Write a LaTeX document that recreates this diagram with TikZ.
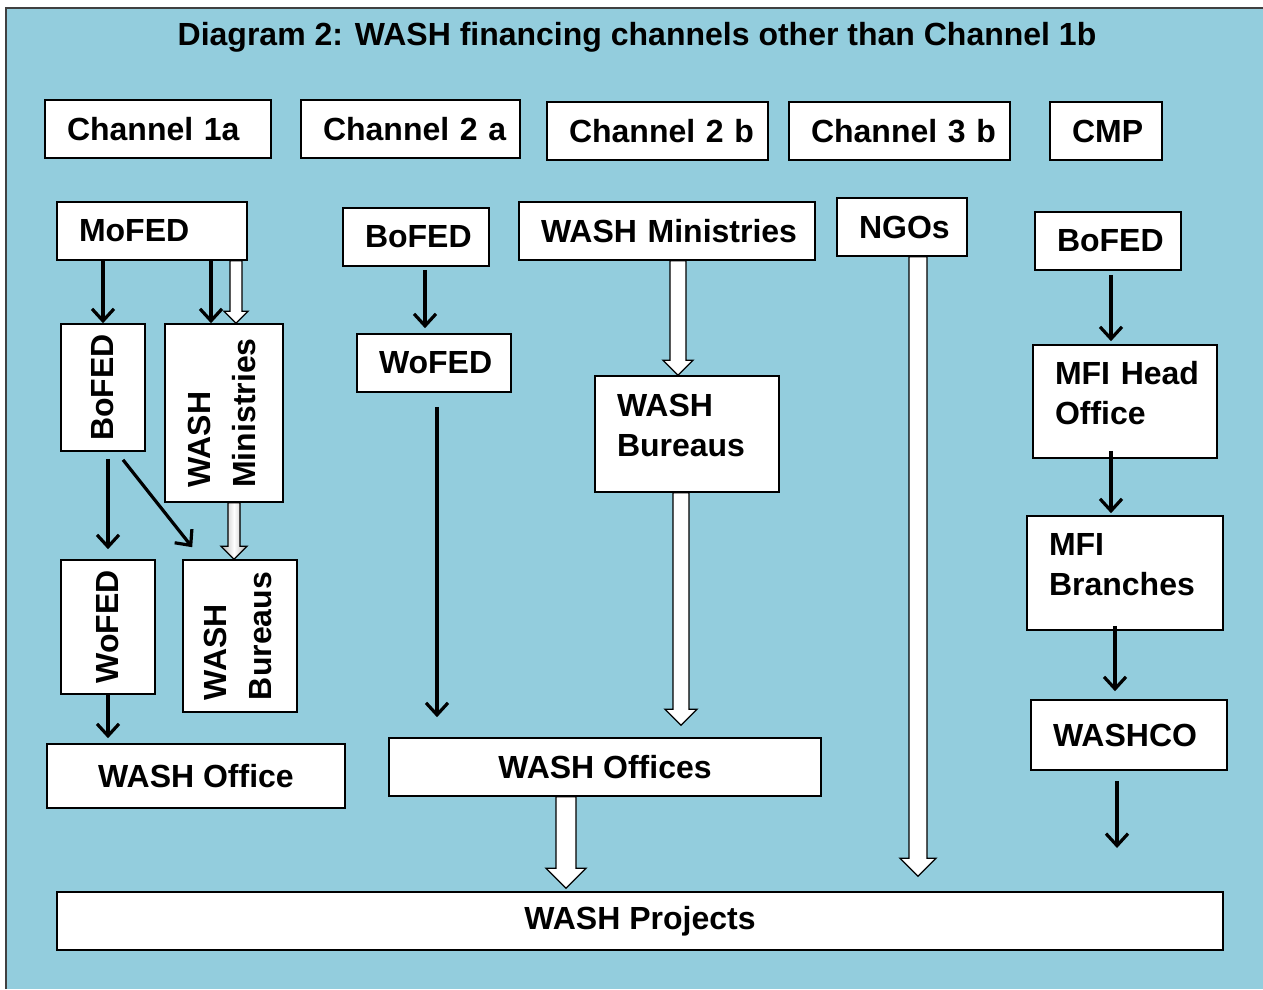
\documentclass[tikz,border=0pt]{standalone}
\usepackage{fontspec}
\setmainfont{Liberation Sans}
\usepackage{graphicx}
\usetikzlibrary{arrows.meta, calc}

\definecolor{bgblue}{RGB}{147,205,221}
\newcommand{\lbl}{\fontsize{32}{40}\selectfont\bfseries}
\newcommand{\vlbl}{\fontsize{32}{45}\selectfont\bfseries}

% white block arrow pointing down: from, to, shaft half width, head half width
\newcommand{\blockarrow}[5][fill=white]{%
	\filldraw[#1, draw=black, line width=1.3pt, line join=miter]
		let \p1=(#2), \p2=(#3) in
		(\x1-#4,\y1) -- (\x1-#4,\y2+#5) -- (\x1-#5,\y2+#5) -- (\x1,\y2)
		-- (\x1+#5,\y2+#5) -- (\x1+#4,\y2+#5) -- (\x1+#4,\y1) -- cycle;}

\begin{document}
\begin{tikzpicture}[x=1pt, y=-1pt,
					box/.style={draw, fill=white, line width=1.6pt, inner xsep=22pt,
								inner ysep=0pt, align=left, font=\lbl},
					twoline/.style={text depth=58pt},
					cbox/.style={draw, fill=white, line width=1.6pt, inner sep=0pt,
								align=center, font=\lbl},
					vbox/.style={draw, fill=white, line width=1.6pt, inner sep=0pt,
								font=\vlbl},
					flow/.style={-{Straight Barb[length=12pt,width=22pt]}, line width=3.2pt}]

	\useasboundingbox (0,0) rectangle (1263,989);
	\fill[bgblue] (6,8) rectangle (1263,989);
	\draw[line width=1.5pt, black!75] (6,989) -- (6,8) -- (1263,8);

	\node[font=\lbl] (title) at (637,37) {Diagram 2: WASH financing channels other than Channel 1b};

	% channel headers
	\node[box, text width=182pt, minimum height=58pt] (ch1a) at (158,129) {\mbox{Channel 1a}};
	\node[box, text width=175pt, minimum height=58pt] (ch2a) at (410.5,129) {\mbox{Channel 2 a}};
	\node[box, text width=177pt, minimum height=58pt] (ch2b) at (657.5,131) {\mbox{Channel 2 b}};
	\node[box, text width=177pt, minimum height=58pt] (ch3b) at (899.5,131) {\mbox{Channel 3 b}};
	\node[box, text width=68pt, minimum height=58pt] (cmp) at (1106,131) {CMP};

	% channel 1a
	\node[box, text width=146pt, minimum height=58pt] (mofed) at (152,231) {MoFED};
	\node[vbox, minimum width=84pt, minimum height=127pt] (bofedA) at (103,387.5) {\rotatebox{90}{BoFED}};
	\node[vbox, minimum width=118pt, minimum height=178pt] (wminA) at (224,413)
		{\rotatebox{90}{\begin{tabular}{@{}l@{}}WASH\\Ministries\end{tabular}}};
	\node[vbox, minimum width=94pt, minimum height=134pt] (wofedA) at (108,627) {\rotatebox{90}{WoFED}};
	\node[vbox, minimum width=114pt, minimum height=152pt] (wbuA) at (240,636)
		{\rotatebox{90}{\begin{tabular}{@{}l@{}}WASH\\Bureaus\end{tabular}}};
	\node[cbox, minimum width=298pt, minimum height=64pt] (woffA) at (196,776) {WASH Office};

	% channel 2a
	\node[box, text width=102pt, minimum height=58pt] (bofedB) at (416,237) {BoFED};
	\node[box, text width=110pt, minimum height=58pt] (wofedB) at (434,363) {WoFED};
	\node[cbox, minimum width=432pt, minimum height=58pt] (woffB) at (605,767) {WASH Offices};

	% channel 2b
	\node[box, text width=252pt, minimum height=58pt] (wminB) at (667,231) {\mbox{WASH Ministries}};
	\node[box, twoline, text width=140pt, minimum height=116pt] (wbuB) at (687,434) {WASH\\Bureaus};

	% channel 3b
	\node[box, text width=86pt, minimum height=58pt] (ngo) at (902,227) {NGOs};

	% CMP
	\node[box, text width=102pt, minimum height=58pt] (bofedC) at (1108,241) {BoFED};
	\node[box, twoline, text width=140pt, minimum height=113pt] (mfiho) at (1125,401.5) {\mbox{MFI Head}\\Office};
	\node[box, twoline, text width=152pt, minimum height=114pt] (mfibr) at (1125,573) {MFI\\Branches};
	\node[box, text width=152pt, minimum height=70pt] (washco) at (1129,735) {WASHCO};

	\node[cbox, minimum width=1166pt, minimum height=58pt] (proj) at (640,921) {WASH Projects};

	% helper points
	\coordinate (mw1) at ([xshift=-13pt]wminA.north);
	\coordinate (mw2) at ([xshift=12pt]wminA.north);
	\coordinate (mb) at ([xshift=10pt]wminA.south);
	\coordinate (bw) at ([xshift=9pt]bofedB.south);
	\coordinate (wo) at ([xshift=3pt]wofedB.south);
	\coordinate (mb2) at ([xshift=11pt]wminB.south);
	\coordinate (bo2) at ([xshift=-6pt]wbuB.south);
	\path (bo2 |- woffB.north) ++(0,-12) coordinate (bo2tip);
	\coordinate (op) at ([xshift=-39pt]woffB.south);
	\path (op |- proj.north) ++(0,-3) coordinate (optip);
	\coordinate (ng) at ([xshift=16pt]ngo.south);
	\path (ng |- proj.north) ++(0,-15) coordinate (ngtip);
	\coordinate (c1) at ([xshift=3pt]bofedC.south);
	\coordinate (c2) at ([xshift=-14pt]mfiho.south);
	\coordinate (c3) at ([xshift=-10pt]mfibr.south);
	\coordinate (c4) at ([xshift=-12pt]washco.south);
	\coordinate (washcoOut) at (1117,848);

	% black arrows
	\draw[flow] (mofed.south -| bofedA.north) -- (bofedA.north);
	\draw[flow] (mw1 |- mofed.south) -- (mw1);
	\draw[flow, shorten <=7pt, shorten >=10pt] (wofedA.north |- bofedA.south) -- (wofedA.north);
	\draw[flow] ([xshift=20pt,yshift=-8pt]bofedA.south) -- ([xshift=10pt,yshift=12pt]wbuA.north west);
	\draw[flow, shorten >=5pt] (wofedA.south) -- (wofedA.south |- woffA.north);
	\draw[flow, shorten <=3pt, shorten >=5pt] (bw) -- (bw |- wofedB.north);
	\draw[flow, shorten <=14pt, shorten >=20pt] (wo) -- (wo |- woffB.north);
	\draw[flow, shorten <=4pt, shorten >=3pt] (c1) -- (c1 |- mfiho.north);
	\draw[flow, shorten <=-8pt, shorten >=2pt] (c2) -- (c2 |- mfibr.north);
	\draw[flow, shorten <=-5pt, shorten >=8pt] (c3) -- (c3 |- washco.north);
	\draw[flow, shorten <=10pt] (c4) -- (washcoOut);

	% block arrows
	\blockarrow{mw2 |- mofed.south}{mw2}{6pt}{12pt}
	\blockarrow[left color=gray!60, right color=gray!60, middle color=white]{mb}{mb |- wbuA.north}{6pt}{13pt}
	\blockarrow{mb2}{mb2 |- wbuB.north}{8pt}{15pt}
	\blockarrow{bo2}{bo2tip}{8pt}{16pt}
	\blockarrow{op}{optip}{10pt}{20pt}
	\blockarrow{ng}{ngtip}{9pt}{18pt}
\end{tikzpicture}
\end{document}
